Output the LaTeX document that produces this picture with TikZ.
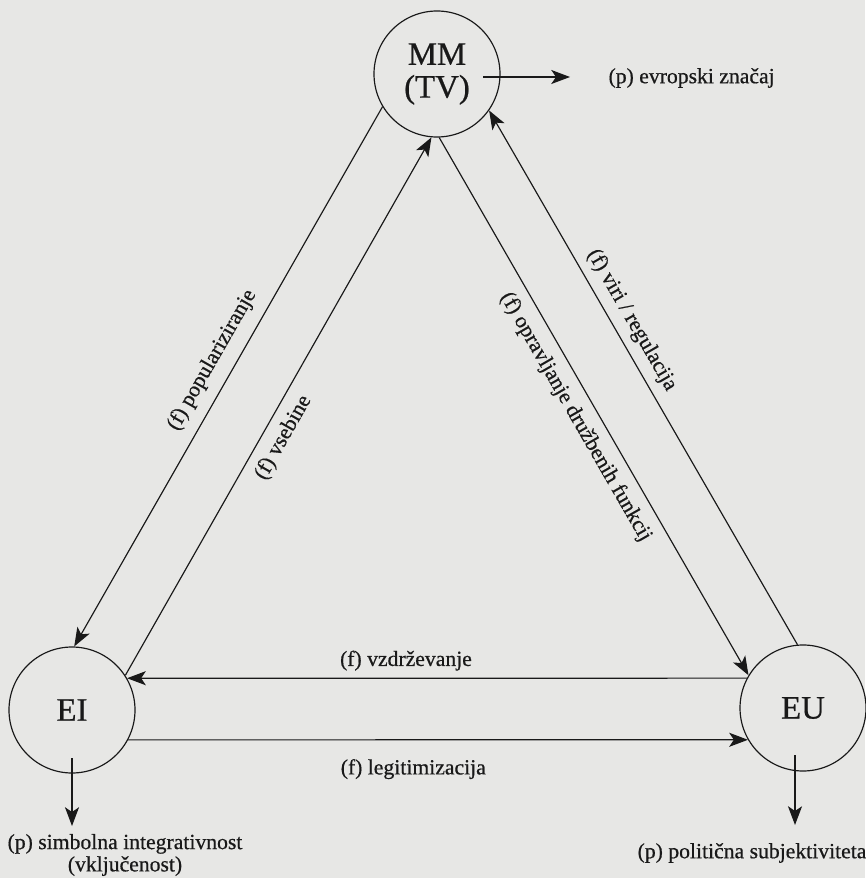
\documentclass[tikz,border=0pt]{standalone}
\usepackage{fontspec}
\setmainfont{Liberation Serif}[FakeBold=0.6]
\usetikzlibrary{arrows.meta,calc}
\definecolor{paper}{RGB}{231,231,229}
\definecolor{ink}{RGB}{25,25,25}
\begin{document}
\begin{tikzpicture}[x=0.03cm, y=-0.03cm,
    >={Stealth[length=16pt,width=12pt,inset=4pt]},
    circ/.style={draw=ink, circle, line width=1pt, minimum size=3.78cm, inner sep=0pt,
      align=center, text=ink, font=\fontsize{28}{28}\selectfont},
    lab/.style={text=ink, inner sep=2pt, font=\fontsize{18.5}{19}\selectfont},
    con/.style={draw=ink, line width=1pt, ->}]
    \fill[paper] (0,0) rectangle (865,878);
    \useasboundingbox (0,0) rectangle (865,878);
    \node[circ] (MM) at (437,74) {MM\\(TV)};
    \node[circ] (EI) at (72,710) {EI};
    \node[circ] (EU) at (803,708) {EU};
    \node[lab, anchor=west] (znacaj) at (606,78) {(p) evropski značaj};
    \node[lab, align=center] (simbolna) at (125,855) {(p) simbolna integrativnost\\(vključenost)};
    \node[lab] (subjekt) at (752,853) {(p) politična subjektiviteta};
    \coordinate (mmtip) at (570,77);
    \coordinate (eitip) at (72,826);
    \coordinate (eutip) at (795,825);
    \draw[con, <-] (EI.88) -- node[lab, sloped, above=8pt, pos=0.51] {(f) populariziranje} (MM.211);
    \draw[con] (EI.33) -- node[lab, sloped, below=6pt, pos=0.46] {(f) vsebine} (MM.265);
    \draw[con] (MM.272) -- node[lab, sloped, below=7pt, pos=0.5] {(f) opravljanje družbenih funkcij} (EU.149);
    \draw[con, <-] (MM.325) -- node[lab, sloped, above=5pt, pos=0.41] {(f) viri / regulacija} (EU.95);
    \draw[con] (EU.152) -- node[lab, above=4pt, pos=0.55] {(f) vzdrževanje} (EI.30);
    \draw[con] (EI.-28) -- node[lab, below=14pt, pos=0.46] {(f) legitimizacija} (EU.210);
    \draw[con] ($(MM)+(46,3)$) -- (mmtip);
    \draw[con] ($(EI)+(0,48)$) -- (eitip);
    \draw[con] ($(EU)+(-8,47)$) -- (eutip);
\end{tikzpicture}
\end{document}
